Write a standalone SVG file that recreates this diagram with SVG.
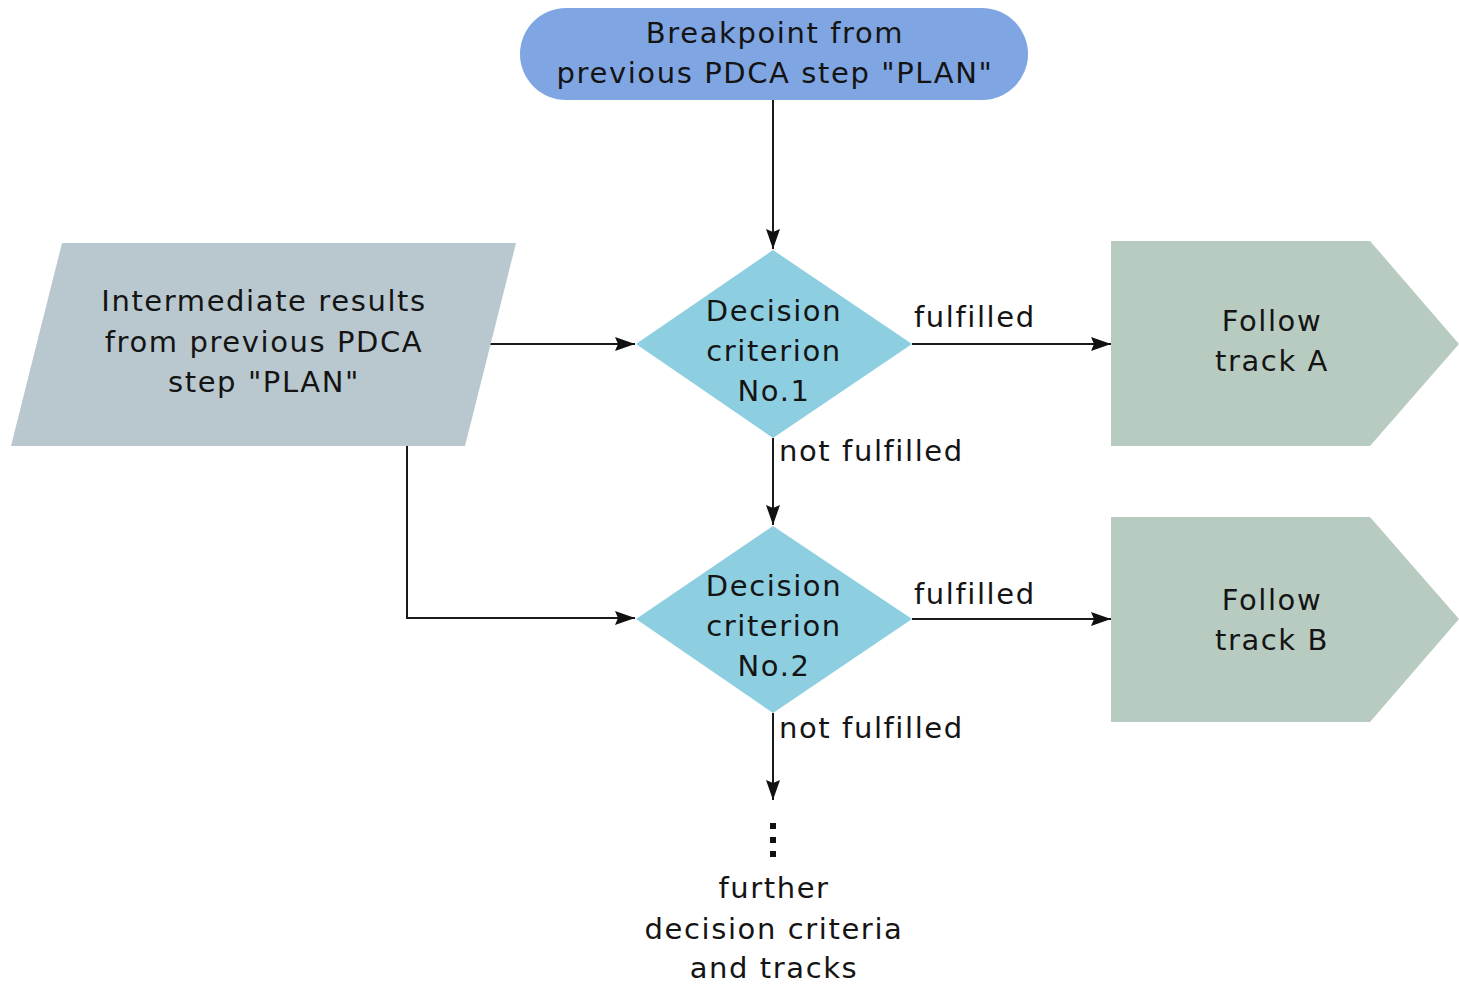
<svg xmlns="http://www.w3.org/2000/svg" width="1459" height="984" viewBox="0 0 1459 984">
<style>
text{font-family:"DejaVu Sans","Liberation Sans",sans-serif;font-size:29px;letter-spacing:1.6px;fill:#141414;text-anchor:middle}
.lbl{text-anchor:start}
.ln{fill:none;stroke:#1a1a1a;stroke-width:2}
</style>
<defs>
<marker id="ah" viewBox="0 0 20 14" refX="20" refY="7" markerWidth="20" markerHeight="14" markerUnits="userSpaceOnUse" orient="auto">
<path d="M0,0 L20,7 L0,14 L3,7 Z" fill="#111"/>
</marker>
</defs>
<rect width="1459" height="984" fill="#fff"/>
<g id="connectors">
<path class="ln" d="M773,100 V249" marker-end="url(#ah)"/>
<path class="ln" d="M490,344 H635" marker-end="url(#ah)"/>
<path class="ln" d="M912,344 H1111" marker-end="url(#ah)"/>
<path class="ln" d="M773,438 V525" marker-end="url(#ah)"/>
<path class="ln" d="M407,446 V618 H635" marker-end="url(#ah)"/>
<path class="ln" d="M912,619 H1111" marker-end="url(#ah)"/>
<path class="ln" d="M773,713 V800" marker-end="url(#ah)"/>
<text class="lbl" x="914" y="327">fulfilled</text>
<text class="lbl" x="779" y="461">not fulfilled</text>
<text class="lbl" x="914" y="604">fulfilled</text>
<text class="lbl" x="779" y="738">not fulfilled</text>
</g>
<g id="start">
<rect x="520" y="8" width="508" height="92" rx="46" fill="#7fa6e2"/>
<text x="775" y="43">Breakpoint from</text>
<text x="775" y="83">previous PDCA step "PLAN"</text>
</g>
<g id="input">
<polygon points="62,243 516,243 465,446 11,446" fill="#b9c8ce"/>
<text x="264" y="311">Intermediate results</text>
<text x="264" y="352">from previous PDCA</text>
<text x="264" y="392">step "PLAN"</text>
</g>
<g id="decision1">
<polygon points="773,250 912,344 773,438 636,344" fill="#8dcfe0"/>
<text x="774" y="321">Decision</text>
<text x="774" y="361">criterion</text>
<text x="774" y="401">No.1</text>
</g>
<g id="trackA">
<polygon points="1111,241 1370,241 1459,344 1370,446 1111,446" fill="#b7cbc0"/>
<text x="1272" y="331">Follow</text>
<text x="1272" y="371">track A</text>
</g>
<g id="decision2">
<polygon points="773,526 912,619 773,713 636,619" fill="#8dcfe0"/>
<text x="774" y="596">Decision</text>
<text x="774" y="636">criterion</text>
<text x="774" y="676">No.2</text>
</g>
<g id="trackB">
<polygon points="1111,517 1370,517 1459,619 1370,722 1111,722" fill="#b7cbc0"/>
<text x="1272" y="610">Follow</text>
<text x="1272" y="650">track B</text>
</g>
<g id="further">
<rect x="770" y="823" width="6" height="6" fill="#111"/>
<rect x="770" y="837" width="6" height="6" fill="#111"/>
<rect x="770" y="851" width="6" height="6" fill="#111"/>
<text x="774" y="898">further</text>
<text x="774" y="939">decision criteria</text>
<text x="774" y="978">and tracks</text>
</g>
</svg>
